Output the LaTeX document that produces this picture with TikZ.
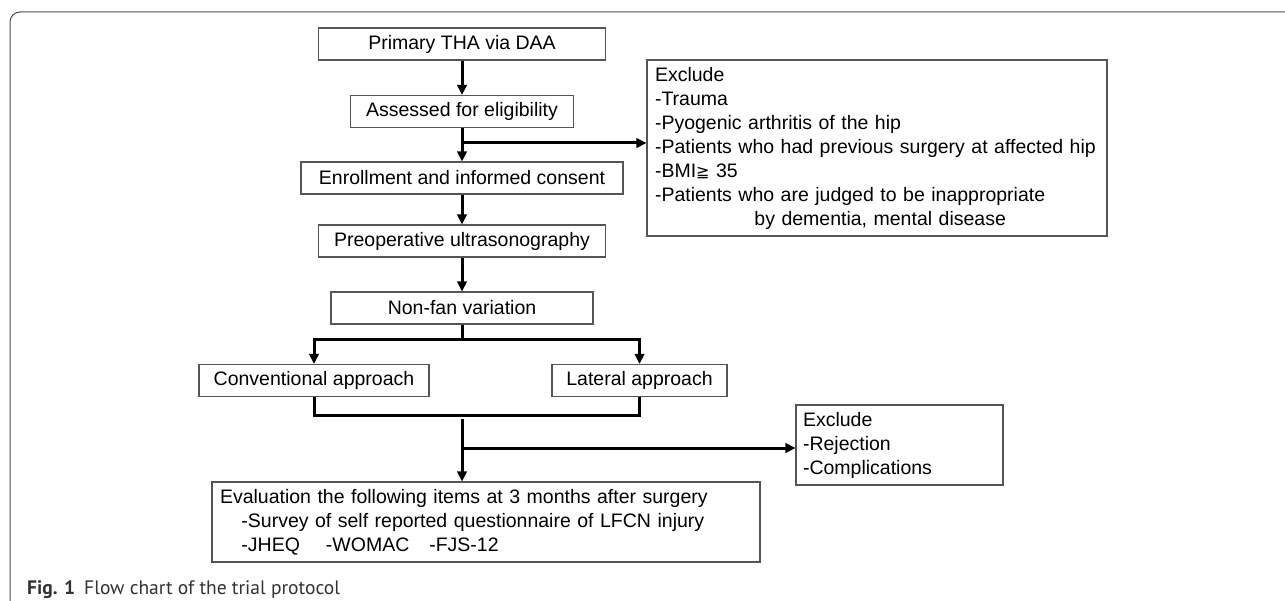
\documentclass[tikz,border=0pt]{standalone}
\usepackage{fontspec}
\setmainfont{Liberation Sans}
\newfontfamily\capfont{PT Sans}
\newfontfamily\symfont{DejaVu Sans}
\usetikzlibrary{arrows.meta,positioning}
\newcommand{\flowfs}{\fontsize{19.5}{24}\selectfont}
\definecolor{boxgray}{HTML}{555555}
\definecolor{framegray}{HTML}{4D4D4D}
\definecolor{capgray}{HTML}{333333}
\tikzset{
  flowbox/.style={draw=boxgray, line width=1.1pt, minimum height=32pt, inner sep=0pt, font=\flowfs},
  listbox/.style={draw=boxgray, line width=1.1pt, align=left, inner ysep=0pt, font=\flowfs},
  flowline/.style={line width=3pt},
  flowarr/.style={line width=3pt, -{Triangle[length=10pt,width=9.5pt]}},
}

\begin{document}
\begin{tikzpicture}[x=1pt,y=-1pt]
    \useasboundingbox[fill=white] (0,0) rectangle (1285,601);
    % frame round the figure
    \draw[framegray, line width=1pt, rounded corners=10pt] (10,601) -- (10,12) -- (1285,12);

    \node[flowbox, minimum width=287pt] (primary) at (462,44) {Primary THA via DAA};
    \node[flowbox, minimum width=223pt] (assessed) at (462,111.5) {Assessed for eligibility};
    \node[flowbox, minimum width=322pt] (enroll) at (462,178) {Enrollment and informed consent};
    \node[flowbox, minimum width=287pt] (preop) at (462,241) {Preoperative ultrasonography};
    \node[flowbox, minimum width=262pt] (nonfan) at (462,308) {Non-fan variation};
    \node[flowbox, minimum width=230pt] (conv) at (314,380.5) {Conventional approach};
    \node[flowbox, minimum width=175pt] (lateral) at (639.5,380.5) {Lateral approach};

    \node[listbox, text width=444pt, inner xsep=8pt, minimum height=176pt] (excl1) at (877,148) {Exclude\\
        -Trauma\\
        -Pyogenic arthritis of the hip\\
        -Patients who had previous surgery at affected hip\\
        -BMI{\symfont\fontsize{16}{24}\selectfont ≧} 35\\
        -Patients who are judged to be inappropriate\\
        \hspace*{5.1em}by dementia, mental disease};
    \node[listbox, text width=193pt, inner xsep=7pt, minimum height=80pt] (excl2) at (899.5,445) {Exclude\\
        -Rejection\\
        -Complications};
    \node[listbox, text width=532pt, inner xsep=8pt, minimum height=80pt] (eval) at (486,522) {Evaluation the following items at 3 months after surgery\\
        \hspace*{1.1em}-Survey of self reported questionnaire of LFCN injury\\
        \hspace*{1.1em}-JHEQ\hspace{26pt}-WOMAC\hspace{20pt}-FJS-12};

    \node[anchor=base west, inner sep=0pt, text=capgray, font=\capfont\fontsize{19.5}{22}\selectfont] (caption) at (27,594) {\textbf{Fig. 1}\hspace{9pt}Flow chart of the trial protocol};

    % arrows
    \coordinate (exclsplit) at (462,143);
    \coordinate (fork) at (462,340);
    \coordinate (merge) at (462,415);
    \coordinate (stemtop) at (462,419);
    \coordinate (dropsplit) at (462,448);

    \draw[flowarr] (primary) -- (assessed);
    \draw[flowarr] (assessed) -- (enroll);
    \draw[flowarr] (exclsplit) -- (exclsplit -| excl1.west);
    \draw[flowarr] (enroll) -- (preop);
    \draw[flowarr] (preop) -- (nonfan);
    \draw[flowline] (nonfan.south) -- (fork);
    \draw[flowarr] (fork) -| (conv.north);
    \draw[flowarr] (fork) -| (lateral.north);
    \draw[flowline] (conv.south) |- (merge) -| (lateral.south);
    \draw[flowarr] (stemtop) -- (stemtop |- eval.north);
    \draw[flowarr] (dropsplit) -- (dropsplit -| excl2.west);
\end{tikzpicture}
\end{document}
